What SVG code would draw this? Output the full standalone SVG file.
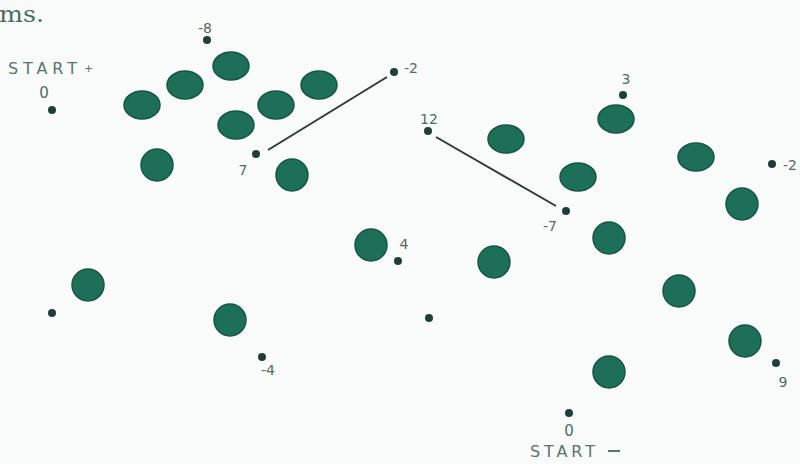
<svg xmlns="http://www.w3.org/2000/svg" width="800" height="464" viewBox="0 0 800 464">
<defs>
<style>
.bg{fill:#f8fbf9}
.blob{fill:#1d6f5a;stroke:#175545;stroke-width:1.5}
.dot{fill:#213f3a}
.lbl{font-family:"DejaVu Sans","Liberation Sans",sans-serif;font-size:14px;fill:#4f6c67;text-anchor:middle}
.cap{font-family:"DejaVu Sans","Liberation Sans",sans-serif;font-size:16px;fill:#56756e}
.ms{font-family:"DejaVu Serif","Liberation Serif",serif;font-size:22px;fill:#4b6a68}
.conn{stroke:#2b3b38;stroke-width:2;fill:none}
</style>
</defs>
<rect class="bg" x="0" y="0" width="800" height="464"/>
<text class="ms" x="-1" y="22" textLength="45" lengthAdjust="spacingAndGlyphs">ms.</text>

<g id="connectors">
<line class="conn" x1="268" y1="150" x2="387" y2="77"/>
<line class="conn" x1="436" y1="137" x2="556" y2="206"/>
</g>

<g id="start-top">
<text class="cap" x="8" y="74" textLength="69" lengthAdjust="spacing">START</text>
<text class="cap" x="84" y="72" style="font-size:11px">+</text>
<text class="lbl" x="44" y="98" style="font-size:15px">0</text>
<circle class="dot" cx="52" cy="110" r="4"/>
</g>
<g id="start-bottom">
<circle class="dot" cx="569" cy="413" r="4"/>
<text class="lbl" x="569" y="436" style="font-size:15px">0</text>
<text class="cap" x="530" y="457" textLength="65" lengthAdjust="spacing">START</text>
<line x1="608" y1="451" x2="620" y2="451" stroke="#56756e" stroke-width="2"/>
</g>

<g id="p-m8"><text class="lbl" x="205" y="33">-8</text><circle class="dot" cx="207" cy="40" r="4"/></g>
<g id="p-7"><circle class="dot" cx="256" cy="154" r="4"/><text class="lbl" x="243" y="175">7</text></g>
<g id="p-m2a"><circle class="dot" cx="394" cy="72" r="4"/><text class="lbl" x="411" y="73">-2</text></g>
<g id="p-3"><text class="lbl" x="626" y="84">3</text><circle class="dot" cx="623" cy="95" r="4"/></g>
<g id="p-12"><text class="lbl" x="429" y="124">12</text><circle class="dot" cx="428" cy="131" r="4"/></g>
<g id="p-m7"><circle class="dot" cx="566" cy="211" r="4"/><text class="lbl" x="550" y="231">-7</text></g>
<g id="p-m2b"><circle class="dot" cx="772" cy="164" r="4"/><text class="lbl" x="790" y="170">-2</text></g>
<g id="p-4"><circle class="dot" cx="398" cy="261" r="4"/><text class="lbl" x="404" y="249">4</text></g>
<g id="p-m4"><circle class="dot" cx="262" cy="357" r="4"/><text class="lbl" x="268" y="375">-4</text></g>
<g id="p-9"><circle class="dot" cx="776" cy="363" r="4"/><text class="lbl" x="783" y="387">9</text></g>
<g id="p-a"><circle class="dot" cx="52" cy="313" r="4"/></g>
<g id="p-b"><circle class="dot" cx="429" cy="318" r="4"/></g>

<g id="e1"><ellipse class="blob" cx="142" cy="105" rx="18" ry="14"/></g>
<g id="e2"><ellipse class="blob" cx="185" cy="85" rx="18" ry="14"/></g>
<g id="e3"><ellipse class="blob" cx="231" cy="66" rx="18" ry="14"/></g>
<g id="e4"><ellipse class="blob" cx="236" cy="125" rx="18" ry="14"/></g>
<g id="e5"><ellipse class="blob" cx="276" cy="105" rx="18" ry="14"/></g>
<g id="e6"><ellipse class="blob" cx="319" cy="85" rx="18" ry="14"/></g>
<g id="e7"><ellipse class="blob" cx="506" cy="139" rx="18" ry="14"/></g>
<g id="e8"><ellipse class="blob" cx="616" cy="119" rx="18" ry="14"/></g>
<g id="e9"><ellipse class="blob" cx="578" cy="177" rx="18" ry="14"/></g>
<g id="e10"><ellipse class="blob" cx="696" cy="157" rx="18" ry="14"/></g>

<g id="c1"><circle class="blob" cx="157" cy="165" r="16"/></g>
<g id="c2"><circle class="blob" cx="292" cy="175" r="16"/></g>
<g id="c3"><circle class="blob" cx="742" cy="204" r="16"/></g>
<g id="c4"><circle class="blob" cx="609" cy="238" r="16"/></g>
<g id="c5"><circle class="blob" cx="88" cy="285" r="16"/></g>
<g id="c6"><circle class="blob" cx="230" cy="320" r="16"/></g>
<g id="c7"><circle class="blob" cx="371" cy="245" r="16"/></g>
<g id="c8"><circle class="blob" cx="494" cy="262" r="16"/></g>
<g id="c9"><circle class="blob" cx="679" cy="291" r="16"/></g>
<g id="c10"><circle class="blob" cx="745" cy="341" r="16"/></g>
<g id="c11"><circle class="blob" cx="609" cy="372" r="16"/></g>
</svg>
